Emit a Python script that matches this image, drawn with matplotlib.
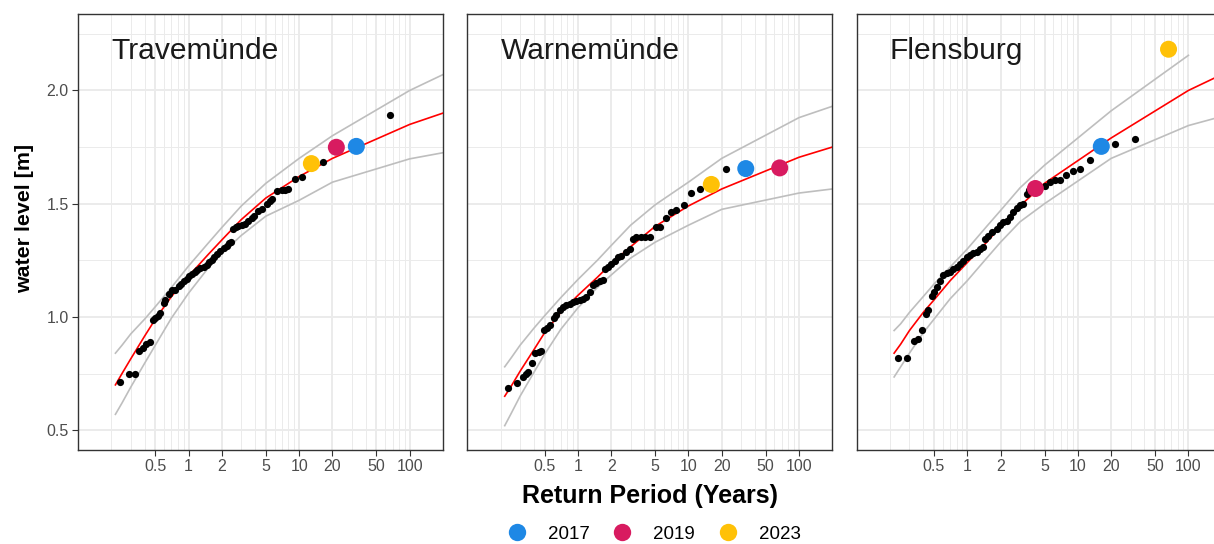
import numpy as np
import matplotlib
matplotlib.use("Agg")
import matplotlib.pyplot as plt
from matplotlib.lines import Line2D

plt.rcParams['font.family'] = ['Liberation Sans', 'DejaVu Sans']

# ---------------- data ----------------
stations = ["Travemünde", "Warnemünde", "Flensburg"]
years = ["2017", "2019", "2023"]
year_colors = ["#1E88E5", "#D81B60", "#FFC107"]

# fitted curve knots (return period, years)
curve_T = [0.218, 0.25, 0.3, 0.4, 0.5, 0.7, 1, 1.5, 2, 3, 5, 10, 20, 100, 200]

trave_fit = [0.70, 0.75, 0.815, 0.915, 0.99, 1.09, 1.18, 1.275, 1.34, 1.43, 1.525, 1.62, 1.70, 1.85, 1.90]
trave_upper = [0.84, 0.875, 0.925, 0.99, 1.045, 1.13, 1.225, 1.325, 1.395, 1.49, 1.59, 1.70, 1.80, 2.00, 2.07]
trave_lower = [0.57, 0.62, 0.69, 0.795, 0.875, 0.995, 1.105, 1.215, 1.28, 1.36, 1.445, 1.515, 1.595, 1.698, 1.725]

warne_fit = [0.65, 0.695, 0.76, 0.855, 0.93, 1.02, 1.095, 1.175, 1.235, 1.31, 1.40, 1.49, 1.565, 1.705, 1.75]
warne_upper = [0.78, 0.82, 0.875, 0.95, 1.005, 1.085, 1.165, 1.25, 1.315, 1.405, 1.495, 1.595, 1.70, 1.88, 1.93]
warne_lower = [0.52, 0.575, 0.65, 0.755, 0.835, 0.945, 1.04, 1.13, 1.185, 1.26, 1.33, 1.405, 1.475, 1.547, 1.565]

flens_fit = [0.84, 0.88, 0.94, 1.02, 1.075, 1.16, 1.24, 1.33, 1.40, 1.49, 1.59, 1.69, 1.79, 2.00, 2.07]
flens_upper = [0.94, 0.97, 1.02, 1.09, 1.145, 1.22, 1.30, 1.40, 1.47, 1.57, 1.67, 1.79, 1.91, 2.155, np.nan]
flens_lower = [0.735, 0.78, 0.84, 0.93, 0.99, 1.08, 1.16, 1.26, 1.33, 1.42, 1.50, 1.60, 1.70, 1.845, 1.885]

# observed events (return period, water level)
trave_T = [0.2375, 0.288, 0.326, 0.355, 0.385, 0.413, 0.445, 0.478, 0.501, 0.530, 0.556,
           0.595, 0.617, 0.66, 0.708, 0.759, 0.813, 0.859, 0.914, 0.968, 1.014, 1.073,
           1.133, 1.19, 1.274, 1.365, 1.464, 1.535, 1.622, 1.714, 1.80, 1.93, 2.07, 2.21,
           2.33, 2.43, 2.54, 2.67, 2.82, 3.03, 3.24, 3.47, 3.72, 3.93, 4.27, 4.58, 5.08,
           5.45, 5.64, 6.25, 6.94, 7.43, 7.96, 9.15, 10.7, 12.9, 16.5, 21.7, 32.9, 66.5]
trave_wl = [0.712, 0.75, 0.75, 0.850, 0.861, 0.879, 0.888, 0.986, 0.997, 1.006, 1.017,
            1.063, 1.076, 1.103, 1.117, 1.121, 1.135, 1.146, 1.158, 1.168, 1.179, 1.190,
            1.200, 1.208, 1.217, 1.222, 1.231, 1.241, 1.252, 1.263, 1.278, 1.293, 1.304, 1.314,
            1.325, 1.333, 1.388, 1.395, 1.402, 1.407, 1.412, 1.424, 1.436, 1.446, 1.468, 1.475, 1.497,
            1.512, 1.519, 1.556, 1.560, 1.561, 1.566, 1.611, 1.617, 1.677, 1.686, 1.749, 1.753, 1.893]

warne_T = [0.233, 0.283, 0.318, 0.341, 0.353, 0.384, 0.411, 0.441, 0.466, 0.492, 0.528,
           0.554, 0.607, 0.638, 0.683, 0.732, 0.785, 0.841, 0.901, 0.968, 1.036, 1.11,
           1.19, 1.276, 1.367, 1.466, 1.571, 1.684, 1.77, 1.867, 2.0, 2.15, 2.30, 2.47,
           2.74, 2.94, 3.15, 3.38, 3.75, 4.01, 4.46, 5.12, 5.56, 6.22, 6.90, 7.76, 9.05,
           10.6, 12.8, 16.1, 21.7, 33.0, 66.9]
warne_wl = [0.686, 0.708, 0.737, 0.749, 0.759, 0.796, 0.839, 0.847, 0.851, 0.942, 0.953,
            0.964, 0.997, 1.007, 1.029, 1.044, 1.051, 1.059, 1.066, 1.070, 1.073, 1.081,
            1.088, 1.110, 1.139, 1.149, 1.158, 1.164, 1.212, 1.219, 1.234, 1.249, 1.266, 1.271,
            1.285, 1.300, 1.344, 1.351, 1.354, 1.354, 1.354, 1.395, 1.398, 1.439, 1.465, 1.474, 1.494,
            1.548, 1.563, 1.585, 1.651, 1.655, 1.658]

flens_T = [0.235, 0.284, 0.333, 0.361, 0.388, 0.421, 0.445, 0.477, 0.504, 0.530, 0.567,
           0.607, 0.652, 0.698, 0.748, 0.802, 0.859, 0.920, 0.988, 1.057, 1.133, 1.215,
           1.302, 1.394, 1.445, 1.549, 1.683, 1.842, 1.973, 2.11, 2.27, 2.43, 2.60, 2.79,
           2.99, 3.20, 3.44, 3.60, 4.13, 5.03, 5.57, 6.19, 6.87, 7.89, 9.06, 10.5, 12.8,
           16.3, 21.8, 32.6, 66.1]
flens_wl = [0.818, 0.820, 0.893, 0.901, 0.942, 1.015, 1.032, 1.091, 1.110, 1.132, 1.158,
            1.183, 1.193, 1.200, 1.212, 1.222, 1.234, 1.249, 1.263, 1.274, 1.281, 1.285,
            1.300, 1.310, 1.344, 1.358, 1.377, 1.388, 1.407, 1.417, 1.424, 1.442, 1.465, 1.482,
            1.494, 1.497, 1.541, 1.559, 1.567, 1.578, 1.597, 1.603, 1.603, 1.625, 1.646, 1.655, 1.692,
            1.753, 1.765, 1.784, 2.182]

# highlighted years (order: 2017, 2019, 2023)
trave_hl_T = [32.9, 21.7, 12.9]
trave_hl_wl = [1.753, 1.749, 1.677]
warne_hl_T = [33.0, 66.9, 16.1]
warne_hl_wl = [1.655, 1.658, 1.585]
flens_hl_T = [16.3, 4.13, 66.1]
flens_hl_wl = [1.753, 1.567, 2.182]

x_breaks = [0.5, 1, 2, 5, 10, 20, 50, 100]
x_labels = ["0.5", "1", "2", "5", "10", "20", "50", "100"]
x_minor = [0.2, 0.3, 0.4, 0.6, 0.7, 0.8, 0.9, 3, 4, 6, 7, 8, 9, 30, 40, 60, 70, 80, 90, 200]
y_breaks = [0.5, 1.0, 1.5, 2.0]
y_labels = ["0.5", "1.0", "1.5", "2.0"]
y_minor = [0.75, 1.25, 1.75, 2.25]

panels = [
    (trave_fit, trave_upper, trave_lower, trave_T, trave_wl, trave_hl_T, trave_hl_wl),
    (warne_fit, warne_upper, warne_lower, warne_T, warne_wl, warne_hl_T, warne_hl_wl),
    (flens_fit, flens_upper, flens_lower, flens_T, flens_wl, flens_hl_T, flens_hl_wl),
]

# ---------------- figure ----------------
W, H = 1214, 544
fig = plt.figure(figsize=(W / 100, H / 100), dpi=100)
lefts = [78, 467.3, 856.7]
pw, top_px, bot_px = 365, 14, 450

for i, (name, pdata) in enumerate(zip(stations, panels)):
    fit, up, lo, pT, pwl, hT, hwl = pdata
    ax = fig.add_axes([lefts[i] / W, 1 - bot_px / H, pw / W, (bot_px - top_px) / H])
    ax.set_xscale('log')
    ax.set_xlim(0.1, 198)
    ax.set_ylim(0.4125, 2.3375)
    ax.set_axisbelow(True)
    ax.set_xticks(x_breaks)
    ax.set_xticklabels(x_labels)
    ax.set_xticks(x_minor, minor=True)
    ax.set_yticks(y_breaks)
    ax.set_yticks(y_minor, minor=True)
    if i == 0:
        ax.set_yticklabels(y_labels)
    else:
        ax.set_yticklabels([])
    ax.grid(which='major', color='#EBEBEB', lw=1.4)
    ax.grid(which='minor', color='#EBEBEB', lw=0.7)
    ax.tick_params(which='minor', length=0)
    ax.tick_params(which='major', direction='out', length=4.2, width=0.8,
                   color='#333333', labelcolor='#4D4D4D', labelsize=11.5, pad=2.5)
    if i > 0:
        ax.tick_params(axis='y', which='major', length=0)
    for s in ax.spines.values():
        s.set_color('#333333')
        s.set_linewidth(1.0)

    ax.plot(curve_T, up, color='#BEBEBE', lw=1.2, zorder=2)
    ax.plot(curve_T, lo, color='#BEBEBE', lw=1.2, zorder=2)
    ax.plot(curve_T, fit, color='#FF0000', lw=1.2, zorder=3)
    ax.scatter(pT, pwl, s=27, color='black', linewidths=0, zorder=4)
    ax.scatter(hT, hwl, s=150, c=year_colors, linewidths=0, zorder=5)
    ax.text(0.2, 2.14, name, fontsize=21.6, color='#1A1A1A', va='baseline', ha='left')

fig.text(25 / W, 1 - 218 / H, 'water level [m]', rotation=90, ha='center', va='center',
         fontsize=15.4, fontweight='bold')
fig.text(650 / W, 1 - 503.3 / H, 'Return Period (Years)', ha='center', va='baseline',
         fontsize=18, fontweight='bold')

handles = [Line2D([], [], marker='o', ls='', color=c, markersize=12.5, markeredgewidth=0)
           for c in year_colors]
fig.legend(handles, years, loc='center', bbox_to_anchor=(654 / W, 1 - 534 / H), ncol=3,
           frameon=False, fontsize=13.5, handlelength=1.0, handletextpad=1.15,
           columnspacing=1.25, borderpad=0, borderaxespad=0)

fig.savefig('out.png', dpi=100)
